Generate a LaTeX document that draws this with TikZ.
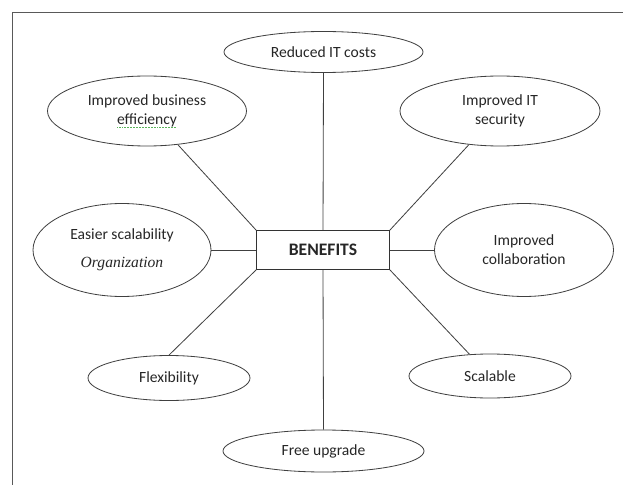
\documentclass[tikz,border=0pt]{standalone}
\usepackage{fontspec}
\setmainfont{Carlito}
\newfontfamily\orgfont{Liberation Serif}
\usetikzlibrary{shapes.geometric}
\definecolor{spellgreen}{RGB}{90,180,90}
\newsavebox\spellbox
\newcommand\spellmark[1]{\sbox\spellbox{#1}%
    \rlap{\color{spellgreen}\raisebox{-2.6pt}{\hbox to \wd\spellbox{\leaders\hbox to 1.3pt{\hss\rule{0.65pt}{0.65pt}\hss}\hfill}}}%
    \usebox\spellbox}

\begin{document}
\begin{tikzpicture}[x=0.03cm, y=-0.03cm,
        benefit/.style={draw=black!75, line width=0.7pt, ellipse, inner sep=0pt,
            align=center, text=black!85, font=\fontsize{13.3}{16}\selectfont},
        link/.style={draw=black!75, line width=0.7pt}]
    \useasboundingbox (0,0) rectangle (623,485);
    \draw[black!65, line width=0.8pt] (12,485) -- (12,12) -- (623,12);
    \node[draw=black!80, line width=0.8pt, minimum width=3.99cm, minimum height=1.17cm,
        text=black!85, font=\fontsize{15}{18}\selectfont\bfseries] (benefits) at (323,250) {BENEFITS};
    \node[benefit, minimum width=5.97cm, minimum height=1.23cm] (costs) at (323.5,52) {Reduced IT costs};
    \node[benefit, minimum width=5.97cm, minimum height=2.1cm] (efficiency) at (147,111)
        {Improved business\\\spellmark{efficiency}};
    \node[benefit, minimum width=6cm, minimum height=2.1cm] (security) at (500,111) {Improved IT\\security};
    \node[benefit, minimum width=5.34cm, minimum height=2.79cm] (scalability) at (122,250)
        {Easier scalability\\[0.6em]{\orgfont\itshape Organization}};
    \node[benefit, minimum width=5.37cm, minimum height=2.79cm] (collaboration) at (524,250) {Improved\\collaboration};
    \node[benefit, minimum width=4.86cm, minimum height=1.35cm] (flexibility) at (169,378) {Flexibility};
    \node[benefit, minimum width=4.86cm, minimum height=1.32cm] (scalable) at (490,376) {Scalable};
    \node[benefit, minimum width=6.03cm, minimum height=1.26cm] (upgrade) at (323.5,451) {Free upgrade};
    \draw[link] (benefits.north) -- (costs.south);
    \draw[link] (benefits.north west) -- (efficiency);
    \draw[link] (benefits.north east) -- (security);
    \draw[link] (benefits.west) -- (scalability);
    \draw[link] (benefits.east) -- (collaboration);
    \draw[link] (benefits.south west) -- (flexibility.north);
    \draw[link] (benefits.south east) -- (scalable);
    \draw[link] (benefits.south) -- (upgrade.north);
\end{tikzpicture}
\end{document}
